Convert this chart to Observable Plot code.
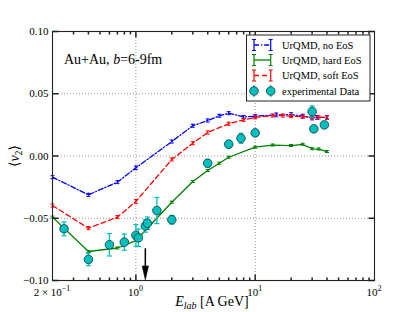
<!DOCTYPE html>
<html><head><meta charset="utf-8">
<script src="https://cdn.jsdelivr.net/npm/d3@7"></script>
<script src="https://cdn.jsdelivr.net/npm/@observablehq/plot@0.6"></script>
<style>body{margin:0;background:#fff} svg{display:block}</style>
</head><body><div id="chart"></div>
<script>
// ---- data ----
const eNoEoS   = [0.2, 0.4, 0.7, 1, 2, 3, 4, 5, 6, 8, 10, 15, 20, 25, 30, 33, 40];
const v2NoEoS  = [-0.0170, -0.0312, -0.0210, -0.0095, 0.0116, 0.0243, 0.0285, 0.0323, 0.0344, 0.0313, 0.0320, 0.0330, 0.0332, 0.0320, 0.0308, 0.0310, 0.0310];
const errNoEoS = [0.0012, 0.0012, 0.0012, 0.0015, 0.0012, 0.0012, 0.0012, 0.0012, 0.0012, 0.0012, 0.0012, 0.0015, 0.0015, 0.0015, 0.0018, 0.0015, 0.0015];

const eHard    = [0.2, 0.4, 0.7, 1, 2, 3, 4, 5, 6, 10, 14, 20, 25, 30, 34, 40];
const v2Hard   = [-0.0491, -0.0767, -0.0739, -0.0679, -0.0371, -0.0205, -0.0116, -0.0058, -0.0010, 0.0071, 0.0088, 0.0084, 0.0094, 0.0058, 0.0056, 0.0036];
const errHard  = [0.0008, 0.0008, 0.0008, 0.0008, 0.0008, 0.0008, 0.0008, 0.0008, 0.0008, 0.0008, 0.0008, 0.0008, 0.0008, 0.0008, 0.0008, 0.0008];

const eSoft    = [0.2, 0.4, 0.7, 1, 2, 3, 4, 6, 8, 10, 14, 17, 20, 25, 30, 34, 40];
const v2Soft   = [-0.0398, -0.0580, -0.0491, -0.0365, -0.0028, 0.0103, 0.0189, 0.0259, 0.0290, 0.0310, 0.0325, 0.0325, 0.0320, 0.0316, 0.0314, 0.0310, 0.0310];
const errSoft  = [0.0012, 0.0012, 0.0012, 0.0015, 0.0012, 0.0012, 0.0012, 0.0012, 0.0012, 0.0012, 0.0012, 0.0012, 0.0012, 0.0012, 0.0012, 0.0012, 0.0012];

const eExp     = [0.25, 0.4, 0.6, 0.8, 1.0, 1.05, 1.2, 1.25, 1.5, 2, 4, 6, 7.6, 10, 30, 31, 38];
const v2Exp    = [-0.0585, -0.0831, -0.0713, -0.0692, -0.0638, -0.0657, -0.0562, -0.0540, -0.0438, -0.0512, -0.0058, 0.0095, 0.0142, 0.0186, 0.0357, 0.0218, 0.0250];
const errExp   = [0.0055, 0.0050, 0.0090, 0.0065, 0.0087, 0.0070, 0.0050, 0.0050, 0.0105, 0.0035, 0.0030, 0.0030, 0.0040, 0.0020, 0.0045, 0.0020, 0.0020];

const arrowE = 1.2;
const arrowTop = -0.0745, arrowTip = -0.0995;

const xMajor = [1, 10];
const xMinor = [0.3,0.4,0.5,0.6,0.7,0.8,0.9, 2,3,4,5,6,7,8,9, 20,30,40,50,60,70,80,90];
const yMajor = [-0.10, -0.05, 0.00, 0.05, 0.10];
const yTickLabels = ["\u22120.10", "\u22120.05", "0.00", "0.05", "0.10"];
const xTickLabels = [{v: 0.2, base: "2 \u00d7 10", exp: "\u22121"}, {v: 1, base: "10", exp: "0"}, {v: 10, base: "10", exp: "1"}, {v: 100, base: "10", exp: "2"}];

const series = [
  {name: "UrQMD, no EoS", e: eNoEoS, v: v2NoEoS, err: errNoEoS, color: "#0000ff", dash: "5,2,1.2,2"},
  {name: "UrQMD, hard EoS", e: eHard, v: v2Hard, err: errHard, color: "#008000", dash: null},
  {name: "UrQMD, soft EoS", e: eSoft, v: v2Soft, err: errSoft, color: "#ff0000", dash: "5,3"}
];
const rows = (e, v, err) => e.map((x, i) => ({x, v: v[i], lo: v[i] - err[i], hi: v[i] + err[i]}));
const expRows = rows(eExp, v2Exp, errExp);
const cyan = "#00bfbf";
const FONT = "'Liberation Serif', 'DejaVu Serif', serif";

// ---- custom symbols ----
const hcap = {draw(ctx, size) { const r = Math.sqrt(size / Math.PI); ctx.moveTo(-r, 0); ctx.lineTo(r, 0); }};
const tickUp = {draw(ctx, size) { const l = Math.sqrt(size / Math.PI); ctx.moveTo(0, 0); ctx.lineTo(0, -l); }};
const tickDown = {draw(ctx, size) { const l = Math.sqrt(size / Math.PI); ctx.moveTo(0, 0); ctx.lineTo(0, l); }};
const tickRight = {draw(ctx, size) { const l = Math.sqrt(size / Math.PI); ctx.moveTo(0, 0); ctx.lineTo(l, 0); }};
const tickLeft = {draw(ctx, size) { const l = Math.sqrt(size / Math.PI); ctx.moveTo(0, 0); ctx.lineTo(-l, 0); }};
const triDown = {draw(ctx) { ctx.moveTo(0, 0); ctx.lineTo(-3.2, -14); ctx.lineTo(3.2, -14); ctx.closePath(); }};

const marks = [
  Plot.ruleX(xMajor, {stroke: "#888", strokeDasharray: "1,2", strokeWidth: 0.9}),
  Plot.ruleY([-0.05, 0, 0.05], {stroke: "#888", strokeDasharray: "1,2", strokeWidth: 0.9})
];
for (const s of series) {
  const d = rows(s.e, s.v, s.err);
  marks.push(Plot.line(d, {x: "x", y: "v", stroke: s.color, strokeWidth: 1.3, strokeDasharray: s.dash}));
  marks.push(Plot.ruleX(d, {x: "x", y1: "lo", y2: "hi", stroke: s.color, strokeWidth: 1.1}));
  marks.push(Plot.dot(d, {x: "x", y: "lo", symbol: hcap, r: 2, fill: "none", stroke: s.color, strokeWidth: 1}));
  marks.push(Plot.dot(d, {x: "x", y: "hi", symbol: hcap, r: 2, fill: "none", stroke: s.color, strokeWidth: 1}));
}
marks.push(
  Plot.ruleX(expRows, {x: "x", y1: "lo", y2: "hi", stroke: cyan, strokeWidth: 1.3}),
  Plot.dot(expRows, {x: "x", y: "lo", symbol: hcap, r: 2.5, fill: "none", stroke: cyan, strokeWidth: 1.2}),
  Plot.dot(expRows, {x: "x", y: "hi", symbol: hcap, r: 2.5, fill: "none", stroke: cyan, strokeWidth: 1.2}),
  Plot.dot(expRows, {x: "x", y: "v", r: 4.3, fill: cyan, stroke: "#0d3b3b", strokeWidth: 0.8}),
  // arrow
  Plot.ruleX([arrowE], {y1: arrowTop, y2: arrowTip + 0.008, stroke: "black", strokeWidth: 1.5}),
  Plot.dot([arrowE], {x: d => d, y: () => arrowTip, symbol: triDown, r: 1, fill: "black", stroke: "black", strokeWidth: 0.5}),
  // frame
  Plot.frame({stroke: "#222", strokeWidth: 1.1}),
  // ticks
  Plot.dot(xMajor, {x: d => d, y: () => -0.1, symbol: tickUp, r: 6, fill: "none", stroke: "#222"}),
  Plot.dot(xMinor, {x: d => d, y: () => -0.1, symbol: tickUp, r: 3, fill: "none", stroke: "#222"}),
  Plot.dot(xMajor, {x: d => d, y: () => 0.1, symbol: tickDown, r: 6, fill: "none", stroke: "#222"}),
  Plot.dot(xMinor, {x: d => d, y: () => 0.1, symbol: tickDown, r: 3, fill: "none", stroke: "#222"}),
  Plot.dot(yMajor, {x: () => 0.2, y: d => d, symbol: tickRight, r: 6, fill: "none", stroke: "#222"}),
  Plot.dot(yMajor, {x: () => 100, y: d => d, symbol: tickLeft, r: 6, fill: "none", stroke: "#222"}),
  Plot.text(yMajor, {y: d => d, frameAnchor: "left", text: (d, i) => yTickLabels[i], dx: -4, textAnchor: "end", fontSize: 11, fill: "black"})
);

const plot = Plot.plot({
  width: 415, height: 312,
  marginLeft: 52, marginRight: 41, marginTop: 31, marginBottom: 32,
  x: {type: "log", domain: [0.2, 100], axis: null},
  y: {domain: [-0.1, 0.1], axis: null},
  style: {fontFamily: FONT, background: "white", overflow: "visible"},
  marks
});
document.getElementById("chart").appendChild(plot);

// ---- text and legend (pixel layout via the plot's scales) ----
const svg = d3.select(plot);
const sx = plot.scale("x"), sy = plot.scale("y");
const g = svg.append("g").attr("font-family", FONT).attr("fill", "black").attr("text-anchor", "start");

// x tick labels
for (const t of xTickLabels) {
  const tx = g.append("text").attr("x", sx.apply(t.v)).attr("y", 296).attr("text-anchor", "middle").attr("font-size", 11);
  tx.append("tspan").text(t.base);
  tx.append("tspan").attr("dy", -5).attr("font-size", 8).text(t.exp);
}
// x label
{
  const t = g.append("text").attr("x", 212).attr("y", 306).attr("text-anchor", "middle").attr("font-size", 14);
  t.append("tspan").attr("font-style", "italic").text("E");
  t.append("tspan").attr("font-style", "italic").attr("font-size", 10).attr("dy", 3).text("lab");
  t.append("tspan").attr("dy", -3).text(" [A GeV]");
}
// y label
{
  const t = g.append("text").attr("transform", "translate(19,156) rotate(-90)").attr("text-anchor", "middle").attr("font-size", 14);
  t.append("tspan").text("\u27e8");
  t.append("tspan").attr("font-style", "italic").text("v");
  t.append("tspan").attr("font-size", 10).attr("dy", 3).text("2");
  t.append("tspan").attr("dy", -3).text("\u27e9");
}
// annotation
{
  const t = g.append("text").attr("x", 64).attr("y", 64).attr("font-size", 14).attr("text-anchor", "start");
  t.append("tspan").text("Au+Au, ");
  t.append("tspan").attr("font-style", "italic").text("b");
  t.append("tspan").text("=6-9fm");
}
// legend
{
  const L = g.append("g");
  L.append("rect").attr("x", 246.5).attr("y", 35).attr("width", 123.5).attr("height", 66)
    .attr("fill", "white").attr("stroke", "#222").attr("stroke-width", 1);
  const x1 = 254, x2 = 270.7, tx = 282;
  const ys = [45, 60, 75.5, 91];
  series.forEach((s, i) => {
    const y = ys[i];
    L.append("line").attr("x1", x1).attr("x2", x2).attr("y1", y).attr("y2", y)
      .attr("stroke", s.color).attr("stroke-width", 1.3).attr("stroke-dasharray", s.dash);
    for (const x of [x1, x2]) {
      L.append("line").attr("x1", x).attr("x2", x).attr("y1", y - 5.5).attr("y2", y + 5.5).attr("stroke", s.color).attr("stroke-width", 1.2);
      L.append("line").attr("x1", x - 2).attr("x2", x + 2).attr("y1", y - 5.5).attr("y2", y - 5.5).attr("stroke", s.color);
      L.append("line").attr("x1", x - 2).attr("x2", x + 2).attr("y1", y + 5.5).attr("y2", y + 5.5).attr("stroke", s.color);
    }
    L.append("text").attr("x", tx).attr("y", y).attr("dy", "0.35em").attr("font-size", 10.5).attr("text-anchor", "start").text(s.name);
  });
  const y = ys[3];
  for (const x of [x1, x2]) {
    L.append("line").attr("x1", x).attr("x2", x).attr("y1", y - 6).attr("y2", y + 6).attr("stroke", cyan).attr("stroke-width", 1.3);
    L.append("circle").attr("cx", x).attr("cy", y).attr("r", 4.3).attr("fill", cyan).attr("stroke", "#0d3b3b").attr("stroke-width", 0.8);
  }
  L.append("text").attr("x", tx).attr("y", y).attr("dy", "0.35em").attr("font-size", 10.5).attr("text-anchor", "start").text("experimental Data");
}
</script>
</body></html>
